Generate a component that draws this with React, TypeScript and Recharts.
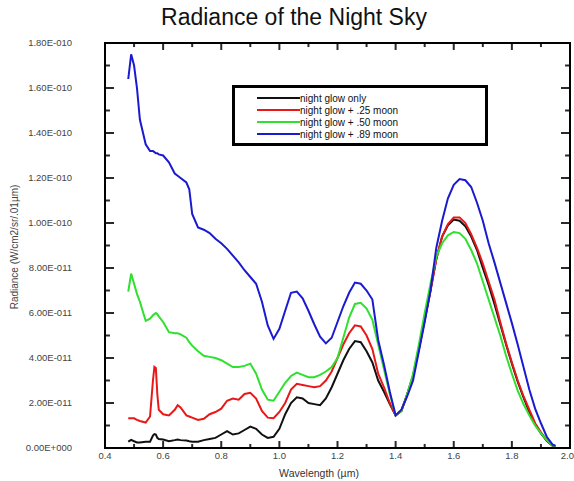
import React from "react";
import { LineChart, Line, XAxis, YAxis, Legend, ReferenceLine } from "recharts";

const FONT = "'Liberation Sans', Arial, sans-serif";

// wavelength in µm
const wavelength = [
  0.48, 0.49, 0.5, 0.51, 0.52,
  0.54, 0.555, 0.565, 0.57, 0.575,
  0.58, 0.585, 0.6, 0.62, 0.64,
  0.65, 0.66, 0.68, 0.69, 0.7,
  0.72, 0.74, 0.76, 0.78, 0.8, 0.82, 0.84, 0.86, 0.88, 0.9, 0.92, 0.94, 0.96, 0.98,
  1.0, 1.02, 1.04, 1.06, 1.08, 1.1, 1.12, 1.14, 1.16, 1.18,
  1.2, 1.22, 1.24, 1.26, 1.28, 1.3, 1.32, 1.34, 1.36, 1.38,
  1.4, 1.42, 1.44, 1.46, 1.48, 1.5, 1.52, 1.54, 1.56, 1.58,
  1.6, 1.62, 1.64, 1.66, 1.68, 1.7, 1.72, 1.74, 1.76, 1.78,
  1.8, 1.82, 1.84, 1.86, 1.88, 1.9, 1.92, 1.94, 1.95,
];

// radiance, in units of 1e-11 W/cm2/sr/.01µm
const nightGlow = [
  0.28, 0.36, 0.3, 0.25, 0.25,
  0.28, 0.28, 0.55, 0.62, 0.6,
  0.45, 0.4, 0.38, 0.3, 0.35,
  0.38, 0.35, 0.33, 0.3, 0.28,
  0.28, 0.35, 0.4, 0.45, 0.6, 0.75, 0.6, 0.65, 0.8, 0.95, 0.85, 0.6, 0.45, 0.5,
  0.85, 1.5, 2.0, 2.25, 2.2, 2.0, 1.95, 1.9, 2.2, 2.7,
  3.3, 3.9, 4.4, 4.75, 4.7, 4.3, 3.8, 3.0, 2.5, 1.95,
  1.45, 1.65, 2.4, 3.2, 4.4, 5.7, 7.0, 8.4, 9.4, 9.9,
  10.15, 10.1, 9.85, 9.4, 8.8, 8.0, 7.25, 6.4, 5.5, 4.6,
  3.75, 2.95, 2.25, 1.6, 1.05, 0.65, 0.32, 0.1, 0.06,
];

const moon25 = [
  1.32, 1.32, 1.32, 1.25, 1.2,
  1.13, 1.4, 3.0, 3.6, 3.55,
  2.4, 1.7, 1.5, 1.45, 1.7,
  1.9, 1.8, 1.45, 1.4, 1.35,
  1.25, 1.3, 1.5, 1.6, 1.75, 2.1, 2.2, 2.15, 2.4, 2.45, 2.2, 1.65, 1.35, 1.32,
  1.6, 2.0, 2.6, 2.85, 2.8, 2.75, 2.7, 2.75, 3.0, 3.4,
  4.0, 4.6, 5.1, 5.45, 5.4, 5.0, 4.4, 3.3, 2.7, 2.0,
  1.45, 1.65, 2.4, 3.2, 4.4, 5.7, 7.0, 8.4, 9.4, 9.95,
  10.25, 10.25, 10.0, 9.5, 8.9, 8.2, 7.4, 6.6, 5.6, 4.65,
  3.8, 3.0, 2.3, 1.7, 1.1, 0.7, 0.35, 0.12, 0.08,
];

const moon50 = [
  6.95, 7.75, 7.3, 6.85, 6.5,
  5.65, 5.75, 5.9, 5.95, 6.0,
  5.95, 5.85, 5.6, 5.15, 5.1,
  5.1, 5.05, 4.9, 4.7, 4.55,
  4.3, 4.1, 4.05, 4.0, 3.9, 3.75, 3.6, 3.6, 3.65, 3.75, 3.3, 2.6, 2.15, 2.1,
  2.5, 2.9, 3.2, 3.35, 3.25, 3.15, 3.15, 3.25, 3.4, 3.6,
  4.0, 4.9, 5.8, 6.4, 6.45, 6.2, 5.7, 4.6, 3.5, 2.4,
  1.45, 1.65, 2.4, 3.3, 4.6, 6.0, 7.3, 8.5, 9.1, 9.45,
  9.6, 9.55, 9.3, 8.8, 8.2, 7.4, 6.6, 5.8, 5.0, 4.1,
  3.3, 2.55, 1.95, 1.45, 1.0, 0.65, 0.35, 0.12, 0.08,
];

const moon89 = [
  16.4, 17.5, 17.0, 16.0, 14.6,
  13.5, 13.2, 13.2, 13.15, 13.1,
  13.1, 13.05, 13.0, 12.7, 12.2,
  12.1, 12.0, 11.8, 11.5, 10.4,
  9.8, 9.7, 9.55, 9.3, 9.1, 8.85, 8.55, 8.25, 7.9, 7.6, 7.3, 6.5, 5.45, 4.85,
  5.3, 6.1, 6.9, 6.95, 6.65, 6.1, 5.5, 4.95, 4.65, 4.9,
  5.6, 6.3, 6.9, 7.35, 7.3, 7.0, 6.6, 4.8, 3.7, 2.5,
  1.45, 1.7, 2.3, 3.0, 4.3, 5.6, 7.0, 8.9, 10.1, 11.1,
  11.7, 11.95, 11.9, 11.6, 10.9, 10.1, 9.1, 8.25, 7.35, 6.45,
  5.55, 4.6, 3.6, 2.6, 1.75, 1.1, 0.5, 0.15, 0.1,
];

const seriesNames = [
  "night glow only",
  "night glow + .25 moon",
  "night glow + .50 moon",
  "night glow + .89 moon",
];
const seriesColors = ["#111111", "#e81818", "#2fe02f", "#1a1ad0"];

const xTicks = [0.4, 0.5, 0.6, 0.7, 0.8, 0.9, 1.0, 1.1, 1.2, 1.3, 1.4, 1.5, 1.6, 1.7, 1.8, 1.9, 2.0];
const yTicks = [
  0, 1e-11, 2e-11, 3e-11, 4e-11, 5e-11, 6e-11, 7e-11, 8e-11, 9e-11,
  1e-10, 1.1e-10, 1.2e-10, 1.3e-10, 1.4e-10, 1.5e-10, 1.6e-10, 1.7e-10, 1.8e-10,
];

const X_MIN = 0.4;
const X_MAX = 2.0;
const Y_MAX = 1.8e-10;

const rows = wavelength.map((w, i) => ({
  w,
  s0: nightGlow[i] * 1e-11,
  s1: moon25[i] * 1e-11,
  s2: moon50[i] * 1e-11,
  s3: moon89[i] * 1e-11,
}));

// 1.80E-010 style
const fmtSci = (v: number) => {
  const [m, e] = v.toExponential(2).split("e");
  const n = parseInt(e, 10);
  const sign = n < 0 ? "-" : "+";
  return m + "E" + sign + String(Math.abs(n)).padStart(3, "0");
};

const isMajorX = (v: number) => Math.round(v * 10) % 2 === 0;
const isMajorY = (v: number) => Math.round(v / 1e-11) % 2 === 0;

// inward tick lengths in data units (~7/4 px vertical, ~9/5 px horizontal)
const xTickLen = (v: number) => (isMajorX(v) ? 3.1e-12 : 1.8e-12);
const yTickLen = (v: number) => (isMajorY(v) ? 0.031 : 0.017);

const BottomLabel = (props: any) => {
  const { x, y, payload } = props;
  if (!isMajorX(payload.value)) return <g />;
  const last = payload.value >= 1.99;
  return (
    <text x={last ? x + 4 : x} y={y + 11} textAnchor={last ? "end" : "middle"} fontSize={9.5} fill="#444">
      {payload.value.toFixed(1)}
    </text>
  );
};

const LeftLabel = (props: any) => {
  const { x, y, payload } = props;
  if (!isMajorY(payload.value)) return <g />;
  return (
    <text x={x - 33} y={y + 3} textAnchor="end" fontSize={9.5} fill="#444">
      {fmtSci(payload.value)}
    </text>
  );
};

const renderLegend = () => (
  <div
    style={{
      boxSizing: "border-box",
      width: 256,
      height: 61,
      border: "3px solid #000",
      background: "#fff",
      padding: "4px 0 0 22px",
      fontFamily: FONT,
    }}
  >
    {seriesNames.map((name, i) => (
      <div key={name} style={{ display: "flex", alignItems: "center", height: 12, fontSize: 10, color: "#111" }}>
        <span style={{ display: "inline-block", width: 43, height: 2, background: seriesColors[i] }} />
        <span>{name}</span>
      </div>
    ))}
  </div>
);

const INK = "#2a2a2a";
const tickProps = { xAxisId: "b", yAxisId: "l", stroke: INK, strokeWidth: 2, ifOverflow: "visible" as const };

export default function App() {
  return (
    <div style={{ position: "absolute", left: 0, top: 0, width: 574, height: 481, background: "#fff", fontFamily: FONT }}>
      <LineChart width={574} height={481} data={rows} margin={{ top: 43, right: 4, bottom: 0, left: 0 }}>
        <XAxis
          xAxisId="b"
          dataKey="w"
          type="number"
          domain={[X_MIN, X_MAX]}
          ticks={xTicks}
          interval={0}
          height={33}
          tickSize={0}
          tickMargin={0}
          tickLine={false}
          axisLine={{ stroke: INK, strokeWidth: 2 }}
          tick={BottomLabel}
          allowDataOverflow
        />
        <YAxis
          yAxisId="l"
          type="number"
          domain={[0, Y_MAX]}
          ticks={yTicks}
          interval={0}
          width={105}
          tickSize={0}
          tickMargin={0}
          tickLine={false}
          axisLine={{ stroke: INK, strokeWidth: 2 }}
          tick={LeftLabel}
          allowDataOverflow
        />
        <Legend
          layout="vertical"
          align="center"
          verticalAlign="middle"
          content={renderLegend}
          wrapperStyle={{ left: 232, top: 85, width: 256, height: 61 }}
        />
        {xTicks.map((v) => (
          <ReferenceLine key={"xb" + v} {...tickProps} segment={[{ x: v, y: 0 }, { x: v, y: xTickLen(v) }]} />
        ))}
        {xTicks.map((v) => (
          <ReferenceLine key={"xt" + v} {...tickProps} segment={[{ x: v, y: Y_MAX }, { x: v, y: Y_MAX - xTickLen(v) }]} />
        ))}
        {yTicks.map((v) => (
          <ReferenceLine key={"yl" + v} {...tickProps} segment={[{ x: X_MIN, y: v }, { x: X_MIN + yTickLen(v), y: v }]} />
        ))}
        {yTicks.map((v) => (
          <ReferenceLine key={"yr" + v} {...tickProps} segment={[{ x: X_MAX, y: v }, { x: X_MAX - yTickLen(v), y: v }]} />
        ))}
        {seriesNames.map((name, i) => (
          <Line
            key={name}
            xAxisId="b"
            yAxisId="l"
            type="linear"
            dataKey={"s" + i}
            name={name}
            stroke={seriesColors[i]}
            strokeWidth={2}
            dot={false}
            isAnimationActive={false}
          />
        ))}
      </LineChart>
      {/* plot frame (same bounds as the plot area: x 105..570, y 43..448) */}
      <div
        style={{
          position: "absolute",
          left: 104,
          top: 42,
          width: 467,
          height: 407,
          boxSizing: "border-box",
          border: "2px solid #000",
          pointerEvents: "none",
        }}
      />
      <div style={{ position: "absolute", left: 0, top: 4, width: 588, textAlign: "center", fontSize: 23, color: "#111" }}>
        Radiance of the Night Sky
      </div>
      <div
        style={{
          position: "absolute",
          left: 219,
          top: 466,
          width: 200,
          lineHeight: "14px",
          textAlign: "center",
          fontSize: 10.5,
          color: "#333",
        }}
      >
        Wavelength (µm)
      </div>
      <div
        style={{
          position: "absolute",
          left: -85,
          top: 240,
          width: 200,
          lineHeight: "14px",
          textAlign: "center",
          fontSize: 10,
          color: "#444",
          transform: "rotate(-90deg)",
        }}
      >
        Radiance (W/cm2/sr/.01µm)
      </div>
    </div>
  );
}
